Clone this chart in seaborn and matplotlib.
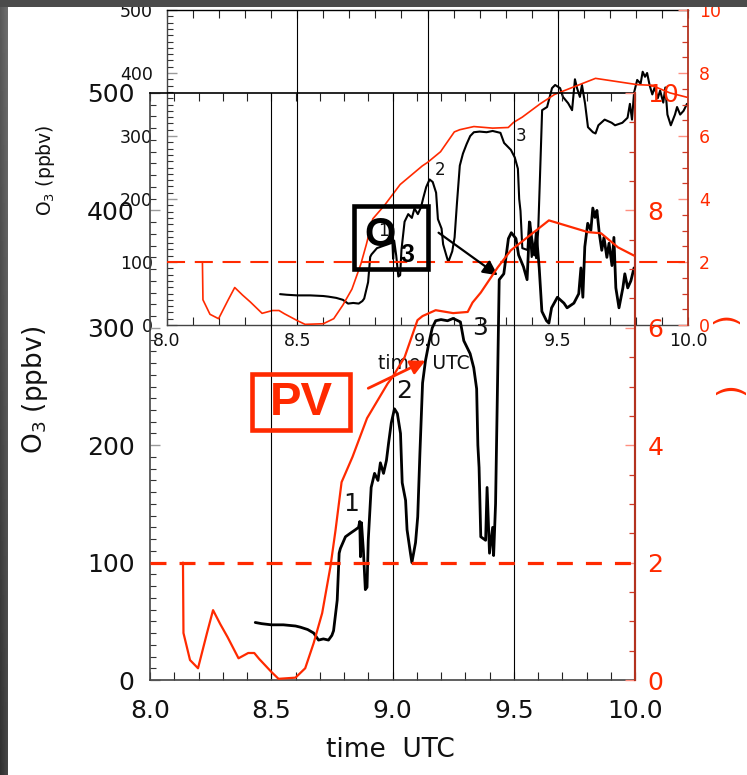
import numpy as np
import pandas as pd
import matplotlib
matplotlib.use("Agg")
import matplotlib.pyplot as plt
from matplotlib.patches import Rectangle
from matplotlib.ticker import MultipleLocator, FixedLocator
import seaborn as sns

# ---- ozone along the flight track (UTC hours, ppbv) ----
o3_time = [8.434, 8.46, 8.50, 8.55, 8.60, 8.62, 8.65, 8.675, 8.695, 8.715, 8.736, 8.75,
           8.757, 8.772, 8.78, 8.785, 8.806, 8.826, 8.847, 8.86, 8.865, 8.868, 8.872, 8.88,
           8.888, 8.895, 8.90, 8.912, 8.926, 8.94, 8.95, 8.963, 8.975, 8.984, 8.995, 9.008,
           9.02, 9.033, 9.04, 9.054, 9.06, 9.074, 9.08, 9.095, 9.104, 9.113, 9.124, 9.136,
           9.15, 9.164, 9.178, 9.20, 9.227, 9.25, 9.28, 9.294, 9.32, 9.335, 9.347, 9.352,
           9.357, 9.364, 9.384, 9.39, 9.40, 9.413, 9.417, 9.425, 9.432, 9.44, 9.459, 9.478,
           9.49, 9.509, 9.52, 9.54, 9.555, 9.566, 9.574, 9.585, 9.593, 9.605, 9.616, 9.635,
           9.645, 9.656, 9.68, 9.707, 9.72, 9.748, 9.768, 9.777, 9.785, 9.793, 9.805, 9.818,
           9.826, 9.835, 9.843, 9.853, 9.863, 9.872, 9.884, 9.893, 9.905, 9.913, 9.921, 9.934,
           9.95, 9.958, 9.97, 9.983, 9.996]
o3_ppbv = [49, 48, 47, 47, 46, 45, 43, 40, 34, 35, 34, 38,
           42, 68, 108, 112, 122, 125, 128, 130, 135, 105, 134, 110,
           77, 79, 119, 164, 176, 170, 185, 176, 187, 202, 219, 231,
           227, 210, 168, 153, 128, 108, 100, 117, 139, 193, 253, 272,
           287, 300, 306, 307, 306, 308, 305, 289, 278, 266, 248, 200,
           181, 122, 119, 164, 108, 130, 106, 150, 238, 341, 346, 376,
           381, 376, 362, 352, 341, 390, 376, 362, 381, 351, 314, 306,
           304, 317, 326, 321, 317, 321, 329, 351, 326, 369, 389, 383,
           402, 394, 400, 380, 366, 377, 360, 372, 353, 377, 334, 317,
           334, 346, 334, 340, 351]

# ---- potential vorticity along the flight track (UTC hours, PVU) ----
pv_time = [8.136, 8.138, 8.165, 8.198, 8.235, 8.26, 8.29, 8.32, 8.365, 8.405, 8.43, 8.45,
           8.50, 8.53, 8.60, 8.64, 8.675, 8.71, 8.744, 8.765, 8.79, 8.835, 8.895, 8.98,
           9.0, 9.05, 9.103, 9.124, 9.178, 9.25, 9.31, 9.33, 9.364, 9.434, 9.488, 9.645,
           9.806, 9.86, 9.93, 9.996]
pv_pvu = [2.0, 0.8, 0.34, 0.2, 0.8, 1.19, 0.95, 0.73, 0.37, 0.46, 0.46, 0.36,
          0.14, 0.02, 0.04, 0.2, 0.63, 1.14, 1.93, 2.55, 3.37, 3.8, 4.46, 5.05,
          5.16, 5.5, 6.13, 6.2, 6.3, 6.25, 6.27, 6.43, 6.6, 7.03, 7.32, 7.83,
          7.63, 7.61, 7.37, 7.23]

x_ticks = [8.0, 8.5, 9.0, 9.5, 10.0]
x_ticklabels = ["8.0", "8.5", "9.0", "9.5", "10.0"]
segment_times = [8.5, 9.0, 9.5]
pv_threshold = 2.0
event_labels = ["1", "2", "3"]
event_time = [8.83, 9.05, 9.36]
event_o3 = [150, 246, 300]

o3_df = pd.DataFrame({"time": o3_time, "o3": o3_ppbv})
pv_df = pd.DataFrame({"time": pv_time, "pv": pv_pvu})

sns.set_theme(style="white")
plt.rcParams["font.family"] = ["DejaVu Sans"]
plt.rcParams["mathtext.default"] = "regular"
plt.rcParams["lines.scale_dashes"] = False

RED = "#ff2a00"
SPINE_RED = "#b3321f"
W, H = 747, 775

fig = plt.figure(figsize=(W / 100, H / 100), dpi=100, facecolor="white")


def px_rect(l, t, r, b):
    return [l / W, 1 - b / H, (r - l) / W, (b - t) / H]


def draw_panel(rect, tick_fs, label_fs, num_fs, lw_o3, lw_pv, lw_dash, dash,
               maj_len, min_len, xpad, ylpad, yrpad, xlab_xy, ylab_xy, frame_lw):
    ax = fig.add_axes(rect)
    ax.set_facecolor("none")
    ax2 = ax.twinx()
    ax2.set_facecolor("none")

    for t in segment_times:
        ax.axvline(t, color="black", lw=0.8, zorder=1)
    ax2.axhline(pv_threshold, color=RED, lw=lw_dash, dashes=dash, zorder=2)

    sns.lineplot(data=o3_df, x="time", y="o3", ax=ax, color="black", lw=lw_o3,
                 estimator=None, sort=False, legend=False, zorder=3)
    sns.lineplot(data=pv_df, x="time", y="pv", ax=ax2, color=RED, lw=lw_pv,
                 estimator=None, sort=False, legend=False, zorder=3)

    for lab, t, v in zip(event_labels, event_time, event_o3):
        ax.text(t, v, lab, fontsize=num_fs, ha="center", va="center", color="#111111")

    ax.set_xlim(8.0, 10.0)
    ax.set_ylim(0, 500)
    ax2.set_ylim(0, 10)

    ax.xaxis.set_major_locator(FixedLocator(x_ticks))
    ax.set_xticklabels(x_ticklabels)
    ax.xaxis.set_minor_locator(MultipleLocator(0.1))
    ax.yaxis.set_major_locator(MultipleLocator(100))
    ax.yaxis.set_minor_locator(MultipleLocator(10))
    ax2.yaxis.set_major_locator(MultipleLocator(2))
    ax2.yaxis.set_minor_locator(MultipleLocator(0.5))

    ax.tick_params(axis="x", which="both", direction="in", top=True, bottom=True,
                   length=maj_len * 0.8, width=0.8, color="#222222",
                   labelsize=tick_fs, pad=xpad, labelcolor="#111111")
    ax.tick_params(axis="y", which="major", direction="in", left=True, right=False,
                   length=maj_len, width=1.0, color="#9a9a9a",
                   labelsize=tick_fs, pad=ylpad, labelcolor="#111111")
    ax.tick_params(axis="y", which="minor", direction="in", left=True, right=False,
                   length=min_len, width=0.8, color="#333333")
    ax2.tick_params(axis="y", which="major", direction="in", right=True, left=False,
                    length=maj_len, width=1.0, color="#ff8f80",
                    labelsize=tick_fs, pad=yrpad, labelcolor=RED)
    ax2.tick_params(axis="y", which="minor", direction="in", right=True, left=False,
                    length=min_len, width=0.9, color="#d23a26")

    for side in ("left", "top", "bottom"):
        ax2.spines[side].set_visible(False)
    ax.spines["right"].set_visible(False)
    ax2.spines["right"].set_color(SPINE_RED)
    ax2.spines["right"].set_linewidth(frame_lw * 1.3)
    ax.spines["top"].set_color("black")
    ax.spines["left"].set_color("#444444")
    ax.spines["bottom"].set_color("#444444")
    for side in ("left", "top", "bottom"):
        ax.spines[side].set_linewidth(frame_lw)

    ax2.set_ylabel("")
    ax.set_xlabel("time  UTC", fontsize=label_fs, color="#111111")
    ax.set_ylabel("O$_3$ (ppbv)", fontsize=label_fs, color="#111111")
    ax.xaxis.label.set_va("center")
    ax.yaxis.label.set_va("center")
    ax.xaxis.set_label_coords(*xlab_xy)
    ax.yaxis.set_label_coords(*ylab_xy)
    return ax, ax2


# earlier, smaller copy of the panel behind the main one
draw_panel(px_rect(167, 10, 688, 325), tick_fs=12.5, label_fs=13.5, num_fs=12,
           lw_o3=1.5, lw_pv=1.2, lw_dash=1.5, dash=(13, 7),
           maj_len=7, min_len=4, xpad=5, ylpad=10, yrpad=8,
           xlab_xy=(0.493, -0.121), ylab_xy=(-0.234, 0.492), frame_lw=1.0)

# main panel
ax, ax2 = draw_panel(px_rect(150, 93, 635, 680), tick_fs=18, label_fs=19, num_fs=18,
                     lw_o3=2.0, lw_pv=1.6, lw_dash=2.3, dash=(11.5, 9.4),
                     maj_len=7, min_len=4, xpad=14, ylpad=11, yrpad=9,
                     xlab_xy=(0.495, -0.119), ylab_xy=(-0.238, 0.494), frame_lw=1.2)

# annotation boxes and arrows
ax.add_patch(Rectangle((8.843, 349.8), 0.302, 53.6, fill=False, lw=3.3,
                       edgecolor="black", zorder=6, clip_on=False))
ax.text(8.95, 379, "O", fontsize=29, fontweight="bold", family="Liberation Sans",
        ha="center", va="center", color="black", zorder=6)
ax.text(9.06, 362, "3", fontsize=18, fontweight="bold", family="Liberation Sans",
        ha="center", va="center", color="black", zorder=6)
ax.annotate("", xy=(9.434, 344.7), xytext=(9.19, 381),
            arrowprops=dict(arrowstyle="-|>", color="black", lw=1.6,
                            mutation_scale=22, shrinkA=0, shrinkB=0), zorder=6)

ax.add_patch(Rectangle((8.4215, 212.8), 0.4045, 47.6, fill=False, lw=3.3,
                       edgecolor=RED, zorder=6, clip_on=False))
ax.text(8.624, 236, "PV", fontsize=34, fontweight="bold", family="Liberation Sans",
        ha="center", va="center", color=RED, zorder=6)
ax.annotate("", xy=(9.136, 272), xytext=(8.9, 248.5),
            arrowprops=dict(arrowstyle="-|>", color=RED, lw=2.0,
                            mutation_scale=22, shrinkA=0, shrinkB=0), zorder=6)

# parentheses of the right-hand axis titles at the page edge
fig.text(722 / W, 1 - 322 / H, "(", rotation=270, color=RED, fontsize=22,
         ha="center", va="center")
fig.text(726 / W, 1 - 392 / H, "(", rotation=270, color=RED, fontsize=24,
         ha="center", va="center")

# slide frame: dark title bar and left border
fig.patches.append(Rectangle((0, 1 - 7 / H), 1, 7 / H, transform=fig.transFigure,
                             facecolor="#4b4b4b", edgecolor="none", zorder=10))
band = fig.add_axes([0, 0, 8 / W, 1 - 7 / H])
grad = np.linspace(0.38, 0.22, 200)[:, None] * np.ones((1, 8))
grad += np.linspace(-0.03, 0.05, 8)[None, :]
band.imshow(grad, cmap="gray", vmin=0, vmax=1, aspect="auto")
band.axis("off")

fig.savefig("out.png", dpi=100, facecolor="white")
